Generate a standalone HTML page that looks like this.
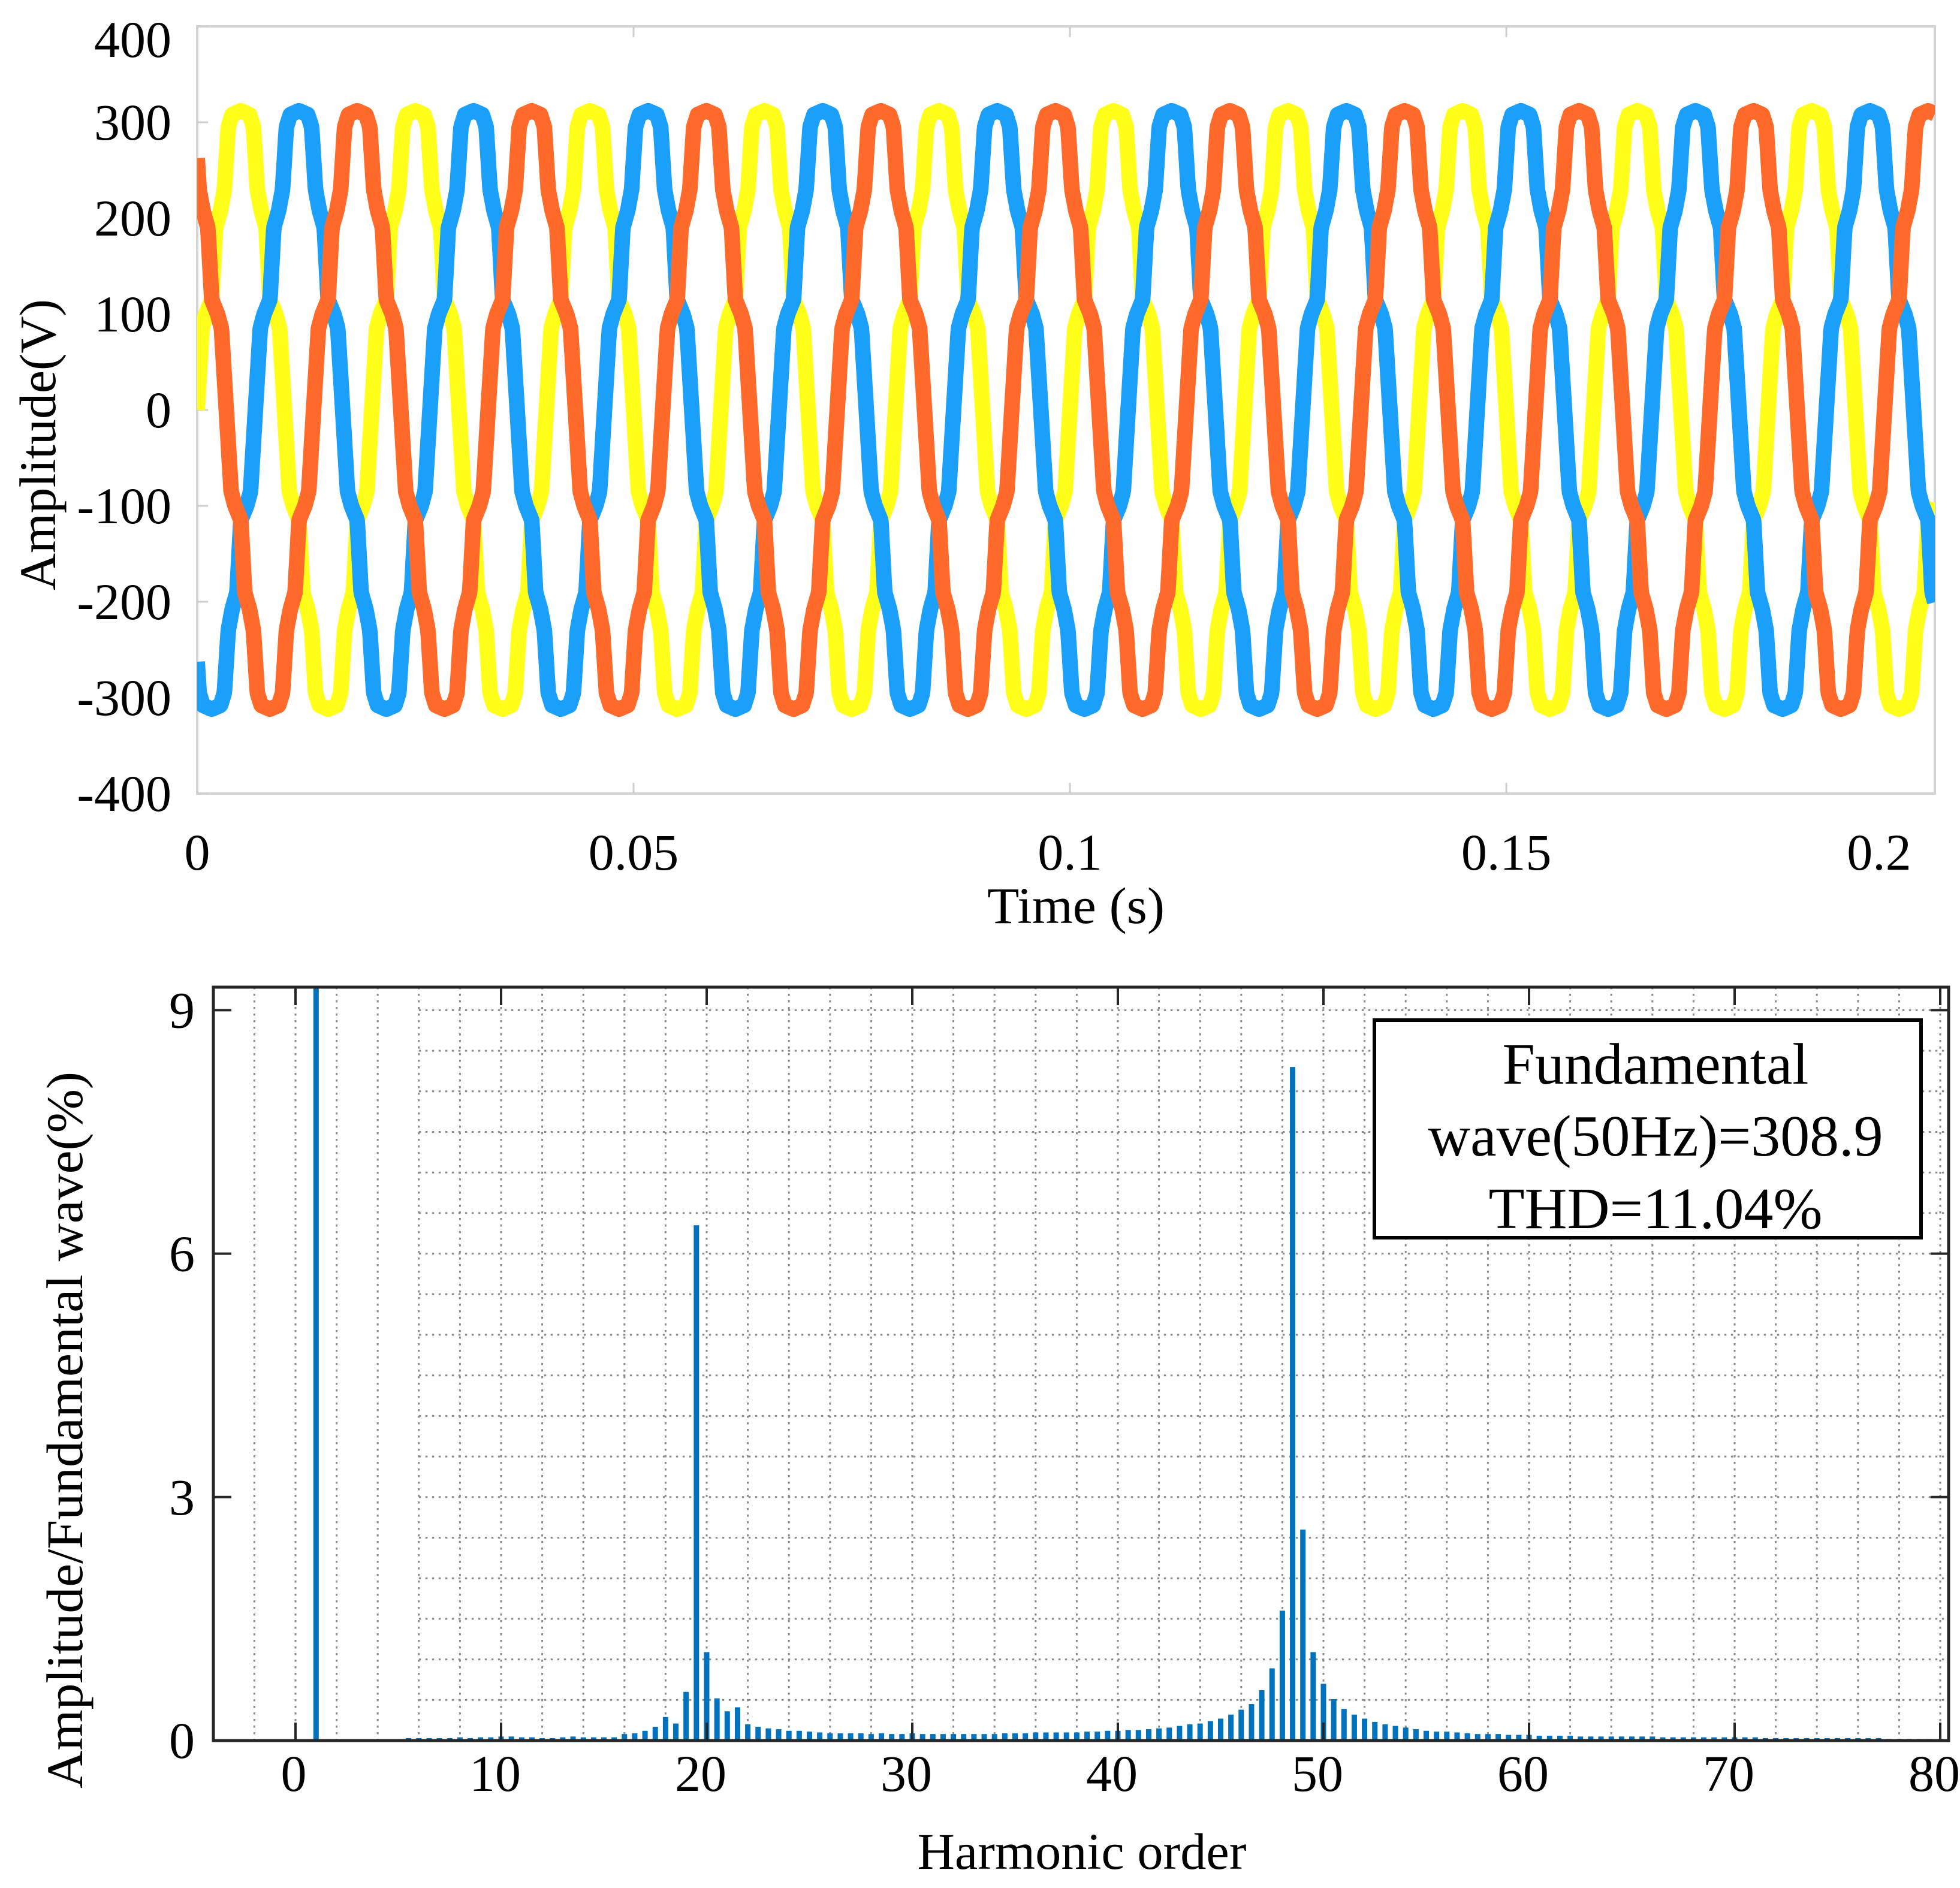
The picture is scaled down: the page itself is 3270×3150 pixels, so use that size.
<!DOCTYPE html>
<html><head><meta charset="utf-8"><style>
html,body{margin:0;padding:0;background:#fff;}
svg{display:block;font-family:"Liberation Serif","DejaVu Serif",serif;}
</style></head><body>
<svg id="fig" width="3270" height="3150" viewBox="0 0 3270 3150" xmlns="http://www.w3.org/2000/svg">
<rect width="3270" height="3150" fill="#fff"/>
<g id="topChart"></g>
<g id="botChart"></g>
</svg>
<script>
// ---------- waveform data ----------
const waveTimeTicks = [0, 0.05, 0.1, 0.15, 0.2];
const waveTimeTickLabels = ["0", "0.05", "0.1", "0.15", "0.2"];
const waveVoltTicks = [400, 300, 200, 100, 0, -100, -200, -300, -400];
const waveVoltTickLabels = ["400", "300", "200", "100", "0", "-100", "-200", "-300", "-400"];
const waveFrequency = 50;
const waveDuration = 0.1991;
// one half-cycle of the stepped multilevel waveform (electrical degrees -> volts)
const shapeDegrees = [0, 10, 18, 30, 38, 48, 56, 64, 72, 90, 108, 116, 124, 132, 142, 150, 162, 170, 180];
const shapeVolts = [0, 85, 100, 115, 190, 208, 230, 295, 308, 312, 308, 295, 230, 208, 190, 115, 100, 85, 0];
const phaseNames = ["phase-a", "phase-b", "phase-c"];
const phaseOffsets = [0, -120, 120];
const phaseColors = ["#ffff1a", "#1aa0fa", "#ff6a2b"];

// ---------- spectrum data ----------
const harmonicTicks = [0, 10, 20, 30, 40, 50, 60, 70, 80];
const harmonicTickLabels = ["0", "10", "20", "30", "40", "50", "60", "70", "80"];
const percentTicks = [0, 3, 6, 9];
const percentTickLabels = ["0", "3", "6", "9"];
const fundamentalOrder = [1];
const fundamentalValue = [100];
const harmonicOrders = [5.5,6,6.5,7,7.5,8,8.5,9,9.5,10,10.5,11,11.5,12,12.5,13,13.5,14,14.5,15,15.5,16,16.5,17,17.5,18,18.5,19,19.5,20,20.5,21,21.5,22,22.5,23,23.5,24,24.5,25,25.5,26,26.5,27,27.5,28,28.5,29,29.5,30,30.5,31,31.5,32,32.5,33,33.5,34,34.5,35,35.5,36,36.5,37,37.5,38,38.5,39,39.5,40,40.5,41,41.5,42,42.5,43,43.5,44,44.5,45,45.5,46,46.5,47,47.5,48,48.5,49,49.5,50,50.5,51,51.5,52,52.5,53,53.5,54,54.5,55,55.5,56,56.5,57,57.5,58,58.5,59,59.5,60,60.5,61,61.5,62,62.5,63,63.5,64,64.5,65,65.5,66,66.5,67,67.5,68,68.5,69,69.5,70,70.5,71,71.5,72,72.5,73,73.5,74,74.5,75,75.5,76,76.5,77,77.5,78,78.5,79,79.5,80,80.5,81,81.5,82];
const harmonicValues = [.03,.03,.03,.03,.03,.04,.03,.04,.04,.05,.05,.04,.04,
.03,.03,.04,.05,.04,.04,.04,.04,.08,.09,.12,.17,.29,.21,.60,6.35,1.09,.52,.36,.41,.20,.17,.15,.14,.12,.12,.11,.10,.09,.09,.09,.09,
.08,.09,.08,.08,.09,.08,.08,.08,.08,.08,.08,.08,
.08,.09,.09,.09,.10,.10,.10,.10,.10,.11,.11,.12,.12,.13,.13,.14,.15,.16,.18,.20,.21,.24,.27,.32,.38,.45,.62,.89,1.6,8.3,2.6,1.09,.70,.51,.39,.32,.27,.23,.20,.18,.16,.14,.12,.11,.11,.10,.09,.08,.08,.08,.07,.07,.07,
.06,.06,.06,.06,.05,.05,.05,.05,.05,.05,.05,.05,.04,.04,.04,.04,.04,.04,.04,.04,.04,.04,.03,.03,.03,.03,.03,.03,.03,.03,.03,.03,.03,.03,.02,.02,.02,.02,.02,.02,.02,.02,.02,.02,
.02,.02,.02,.02,.02,.02,.02,.02,.02,.02];
const legendLines = ["Fundamental", "wave(50Hz)=308.9", "THD=11.04%"];

const NS = "http://www.w3.org/2000/svg";
function mk(parent, tag, attrs, text) {
  const el = document.createElementNS(NS, tag);
  for (const k in attrs) el.setAttribute(k, attrs[k]);
  if (text !== undefined) el.textContent = text;
  parent.appendChild(el);
  return el;
}

// ================= TOP CHART =================
const topG = document.getElementById("topChart");
const TL = 329, TR = 3228, TT = 44, TB = 1324;
const tx = t => TL + t / waveDuration * (TR - TL);
const ty = v => TT + (400 - v) / 800 * (TB - TT);

let node;
node = mk(topG, "rect", {x: TL, y: TT, width: TR - TL, height: TB - TT, fill: "#fff", stroke: "#d4d4d4", "stroke-width": 4});



waveVoltTicks.forEach((v, i) => {
  const y = ty(v);
  const t1 = mk(topG, "line", {x1: TL, x2: TL + 18, y1: y, y2: y, stroke: "#cfcfcf", "stroke-width": 3});
  
  
  const ly = Math.max(y + 29, 95);
  const lb = mk(topG, "text", {x: 286, y: ly, "text-anchor": "end", "font-size": 86, fill: "#000"}, waveVoltTickLabels[i]);
  
  
});
waveTimeTicks.forEach((t, i) => {
  const x = tx(t);
  if (t > 0 && x < TR) {
    const a = mk(topG, "line", {x1: x, x2: x, y1: TB, y2: TB - 18, stroke: "#cfcfcf", "stroke-width": 3});
    
    
    const b = mk(topG, "line", {x1: x, x2: x, y1: TT, y2: TT + 18, stroke: "#cfcfcf", "stroke-width": 3});
    
    
  }
  const lx = Math.min(x, TR - 93);
  const lb = mk(topG, "text", {x: lx, y: 1451, "text-anchor": "middle", "font-size": 86, fill: "#000"}, waveTimeTickLabels[i]);
  
  
});

function shapeAt(deg) {
  deg = ((deg % 360) + 360) % 360;
  let sign = 1;
  if (deg >= 180) { deg -= 180; sign = -1; }
  for (let k = 0; k < shapeDegrees.length - 1; k++) {
    if (deg >= shapeDegrees[k] && deg <= shapeDegrees[k + 1]) {
      const f = (deg - shapeDegrees[k]) / (shapeDegrees[k + 1] - shapeDegrees[k]);
      return sign * (shapeVolts[k] + f * (shapeVolts[k + 1] - shapeVolts[k]));
    }
  }
  return 0;
}
const clipT = mk(topG, "clipPath", {id: "topclip"});
mk(clipT, "rect", {x: TL, y: TT, width: TR - TL, height: TB - TT});
phaseOffsets.forEach((ph, i) => {
  const pts = [];
  const N = 4000;
  for (let s = 0; s <= N; s++) {
    const t = s / N * waveDuration;
    const deg = t * waveFrequency * 360 + ph;
    pts.push(tx(t).toFixed(1) + "," + ty(shapeAt(deg)).toFixed(1));
  }
  const pl = mk(topG, "polyline", {points: pts.join(" "), fill: "none", stroke: phaseColors[i], "stroke-width": 26, "stroke-linejoin": "round", "clip-path": "url(#topclip)"});
  
  
});

node = mk(topG, "text", {x: 1795, y: 1540, "text-anchor": "middle", "font-size": 86, textLength: 296, lengthAdjust: "spacingAndGlyphs"}, "Time (s)");


node = mk(topG, "text", {x: 0, y: 0, "text-anchor": "middle", "font-size": 86, textLength: 486, lengthAdjust: "spacingAndGlyphs", transform: "translate(92,742) rotate(-90)"}, "Amplitude(V)");



// ================= BOTTOM CHART =================
const botG = document.getElementById("botChart");
const BL = 356, BR = 3251, BT = 1647, BB = 2904;
const hx = h => 493 + h * 34.3;
const py = v => BB - v * 135.4;

for (let h = -2; h < 82; h += 2) {
  const g = mk(botG, "line", {x1: hx(h), x2: hx(h), y1: BT, y2: BB, stroke: "#8a8a8a", "stroke-width": 3, "stroke-dasharray": "3.5 7.5"});
  
  
}
for (let v = 0.5; v <= 9.01; v += 0.5) {
  const g = mk(botG, "line", {x1: hx(6), x2: BR, y1: py(v), y2: py(v), stroke: "#8a8a8a", "stroke-width": 3, "stroke-dasharray": "3.5 7.5"});
  
  
}

const clipB = mk(botG, "clipPath", {id: "botclip"});
mk(clipB, "rect", {x: BL, y: BT, width: BR - BL, height: BB - BT});
const bw = 9;
fundamentalOrder.forEach((h, i) => {
  const y = py(fundamentalValue[i]);
  const r = mk(botG, "rect", {x: hx(h) - bw / 2, y: y, width: bw, height: BB - y, fill: "#0072bd", "clip-path": "url(#botclip)"});
  
  
});
harmonicOrders.forEach((h, i) => {
  const val = harmonicValues[i] === undefined ? 0.02 : harmonicValues[i];
  const y = py(val);
  const r = mk(botG, "rect", {x: hx(h) - bw / 2, y: y, width: bw, height: BB - y, fill: "#0072bd", "clip-path": "url(#botclip)"});
  
  
});

node = mk(botG, "rect", {x: BL, y: BT, width: BR - BL, height: BB - BT, fill: "none", stroke: "#262626", "stroke-width": 5});



harmonicTicks.forEach((h, i) => {
  const x = hx(h);
  if (x < BR - 5) {
    const a = mk(botG, "line", {x1: x, x2: x, y1: BB, y2: BB - 30, stroke: "#262626", "stroke-width": 4});
    
    
    const b = mk(botG, "line", {x1: x, x2: x, y1: BT, y2: BT + 30, stroke: "#262626", "stroke-width": 4});
    
    
  }
  let lx = x - 10;
  if (i === 0) lx = x - 3;
  const lb = mk(botG, "text", {x: lx, y: 2988, "text-anchor": "middle", "font-size": 86}, harmonicTickLabels[i]);
  
  
});
percentTicks.forEach((v, i) => {
  const y = py(v);
  const a = mk(botG, "line", {x1: BL, x2: BL + 30, y1: y, y2: y, stroke: "#262626", "stroke-width": 4});
  
  
  const b = mk(botG, "line", {x1: BR, x2: BR - 30, y1: y, y2: y, stroke: "#262626", "stroke-width": 4});
  
  
  const lb = mk(botG, "text", {x: 325, y: y + 29, "text-anchor": "end", "font-size": 86}, percentTickLabels[i]);
  
  
});

node = mk(botG, "text", {x: 1805, y: 3118, "text-anchor": "middle", "font-size": 86, textLength: 549, lengthAdjust: "spacingAndGlyphs"}, "Harmonic order");


node = mk(botG, "text", {x: 0, y: 0, "text-anchor": "middle", "font-size": 86, textLength: 1196, lengthAdjust: "spacingAndGlyphs", transform: "translate(137,2386) rotate(-90)"}, "Amplitude/Fundamental wave(%)");



const lg = mk(botG, "g", {});


mk(lg, "rect", {x: 2293, y: 1702, width: 912, height: 363, fill: "#fff", stroke: "#000", "stroke-width": 6});
const lgBase = [1808, 1928, 2049];
const lgLen = [511, 759, 557];
legendLines.forEach((s, i) => {
  const t = mk(lg, "text", {x: 2762, y: lgBase[i], "text-anchor": "middle", "font-size": 98, textLength: lgLen[i], lengthAdjust: "spacingAndGlyphs"}, s);
  
  
});
</script>
</body></html>
